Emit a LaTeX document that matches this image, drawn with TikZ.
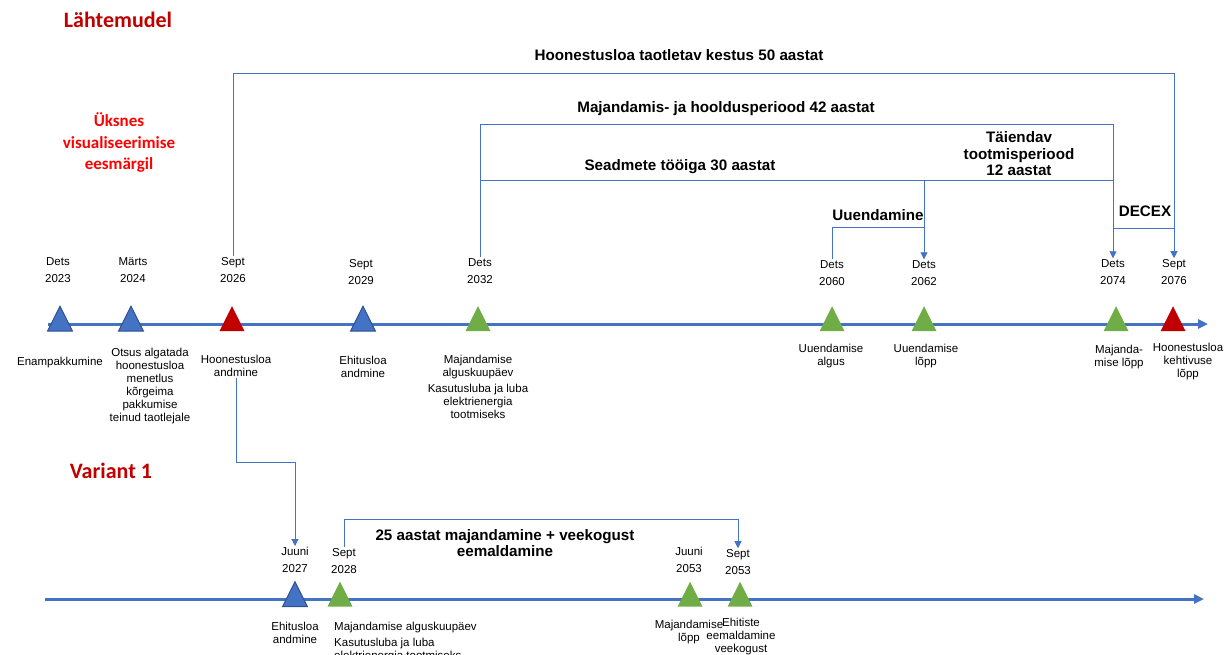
\documentclass[tikz,border=0pt]{standalone}
\usepackage{fontspec}
\setmainfont{Liberation Sans}
\newfontfamily\titlefont{Carlito}
\usetikzlibrary{shapes.geometric,arrows.meta}
\definecolor{lineblue}{HTML}{4472C4}
\definecolor{edgeblue}{HTML}{2F528F}
\definecolor{msgreen}{HTML}{70AD47}
\definecolor{msred}{HTML}{C00000}
\definecolor{brightred}{HTML}{FF0000}

\begin{document}
\begin{tikzpicture}[
    x=1pt, y=-1pt,
    tri/.style={isosceles triangle, shape border rotate=90, isosceles triangle stretches=true, minimum width=25pt, minimum height=25pt, inner sep=0pt},
    triblue/.style={tri, fill=lineblue, draw=edgeblue, line width=1pt},
    trired/.style={tri, fill=msred},
    trigreen/.style={tri, fill=msgreen},
    datelbl/.style={align=center, font=\fontsize{11.5}{17}\selectfont, inner sep=1pt},
    evlbl/.style={align=center, font=\fontsize{11.5}{13}\selectfont, inner sep=1pt},
    spanlbl/.style={align=center, font=\fontsize{15.2}{16.5}\selectfont\bfseries, inner sep=1pt},
    title/.style={font=\titlefont\fontsize{22}{26}\selectfont\bfseries, text=msred},
    timeline/.style={draw=lineblue, line width=3pt, -{Triangle[length=10pt,width=9pt]}},
    bracket/.style={draw=lineblue, line width=0.9pt},
    barrow/.style={bracket, -{Triangle[length=7pt,width=7pt]}}
]
\useasboundingbox (0,0) rectangle (1230,654);

% Pealkirjad
\node[title] (lahte) at (118,20) {Lähtemudel};
\node[align=center, text=brightred, font=\titlefont\fontsize{17}{21.5}\selectfont\bfseries] (vis) at (119,143) {Üksnes\\visualiseerimise\\eesmärgil};
\node[title] (var1) at (111,471) {Variant 1};

% Ajatelg (lähtemudel)
\coordinate (t1s) at (48,324);
\coordinate (t1e) at (1208,324);
\draw[timeline] (t1s) -- (t1e);

\node[triblue] (m2023) at (60,323.5) {};
\node[triblue] (m2024) at (131,323.5) {};
\node[trired] (m2026) at (232,323.5) {};
\node[triblue] (m2029) at (363,323.5) {};
\node[trigreen] (m2032) at (478,323.5) {};
\node[trigreen] (m2060) at (832,323.5) {};
\node[trigreen] (m2062) at (924,323.5) {};
\node[trigreen] (m2074) at (1116,323.5) {};
\node[trired] (m2076) at (1173,323.5) {};

% Kuupaevad
\node[datelbl] (d2023) at (58,270) {Dets\\2023};
\node[datelbl] (d2024) at (133,270) {Märts\\2024};
\node[datelbl] (d2026) at (233,270) {Sept\\2026};
\node[datelbl] (d2029) at (361,272) {Sept\\2029};
\node[datelbl] (d2032) at (480,271) {Dets\\2032};
\node[datelbl] (d2060) at (832,273) {Dets\\2060};
\node[datelbl] (d2062) at (924,273) {Dets\\2062};
\node[datelbl] (d2074) at (1113,272) {Dets\\2074};
\node[datelbl] (d2076) at (1174,272) {Sept\\2076};

% Sundmused
\node[evlbl] (l2023) at (60,363) {Enampakkumine};
\node[evlbl] (l2024) at (150,386) {Otsus algatada\\hoonestusloa\\menetlus\\kõrgeima\\pakkumise\\teinud taotlejale};
\node[evlbl] (l2026) at (236,366) {Hoonestusloa\\andmine};
\node[evlbl] (l2029) at (363,367) {Ehitusloa\\andmine};
\node[evlbl] (l2032) at (478,387) {Majandamise\\alguskuupäev\\[3pt]Kasutusluba ja luba\\elektrienergia\\tootmiseks};
\node[evlbl] (l2060) at (831,356) {Uuendamise\\algus};
\node[evlbl] (l2062) at (926,356) {Uuendamise\\lõpp};
\node[evlbl] (l2074) at (1119,357) {Majanda-\\mise lõpp};
\node[evlbl] (l2076) at (1188,362) {Hoonestusloa\\kehtivuse\\lõpp};

% Perioodid
\coordinate (lvl50) at (0,73);
\coordinate (lvl42) at (0,124);
\coordinate (lvl30) at (0,180);
\coordinate (lvlU) at (0,227);
\coordinate (lvlD) at (0,228);
\draw[barrow] (d2026.north) -- (d2026.north |- lvl50) -| (d2076.north);
\draw[barrow] (d2032.north) -- (d2032.north |- lvl42) -| (d2074.north);
\draw[barrow] (d2032.north |- lvl30) -| (d2062.north);
\draw[bracket] (d2062.north |- lvl30) -- (d2074.north |- lvl30);
\draw[bracket] (d2060.north) -- (d2060.north |- lvlU) -- (d2062.north |- lvlU);
\draw[bracket] (d2074.north |- lvlD) -- (d2076.north |- lvlD);

\node[spanlbl] (s50) at (679,55) {Hoonestusloa taotletav kestus 50 aastat};
\node[spanlbl] (s42) at (726,109) {Majandamis- ja hooldusperiood 42 aastat};
\node[spanlbl] (s30) at (680,167) {Seadmete tööiga 30 aastat};
\node[spanlbl] (s12) at (1019,154) {Täiendav\\tootmisperiood\\12 aastat};
\node[spanlbl] (sU) at (878,215) {Uuendamine};
\node[spanlbl] (sD) at (1145,211) {DECEX};

% Ajatelg (variant 1)
\coordinate (t2s) at (45,599);
\coordinate (t2e) at (1204,599);
\draw[timeline] (t2s) -- (t2e);

\node[triblue] (m2027) at (295,599) {};
\node[trigreen] (m2028) at (340,599) {};
\node[trigreen] (m2053j) at (690,599) {};
\node[trigreen] (m2053s) at (740,599) {};

\node[datelbl] (d2027) at (295,560) {Juuni\\2027};
\node[datelbl] (d2028) at (344,561) {Sept\\2028};
\node[datelbl] (d2053j) at (689,560) {Juuni\\2053};
\node[datelbl] (d2053s) at (738,562) {Sept\\2053};

\node[evlbl] (l2027) at (295,633) {Ehitusloa\\andmine};
\node[evlbl, align=left, anchor=north west] (l2028) at (333,621) {Majandamise alguskuupäev\\[3pt]Kasutusluba ja luba\\elektrienergia tootmiseks};
\node[evlbl] (l2053j) at (689,632) {Majandamise\\lõpp};
\node[evlbl] (l2053s) at (741,637) {Ehitiste\\eemaldamine\\veekogust};

\coordinate (lvlA) at (0,462);
\coordinate (lvl25) at (0,519);
\draw[barrow] (l2026.south) -- (l2026.south |- lvlA) -| (d2027.north);
\draw[barrow] (d2028.north) -- (d2028.north |- lvl25) -| (d2053s.north);
\node[spanlbl] (s25) at (505,543) {25 aastat majandamine + veekogust\\eemaldamine};

\end{tikzpicture}
\end{document}
